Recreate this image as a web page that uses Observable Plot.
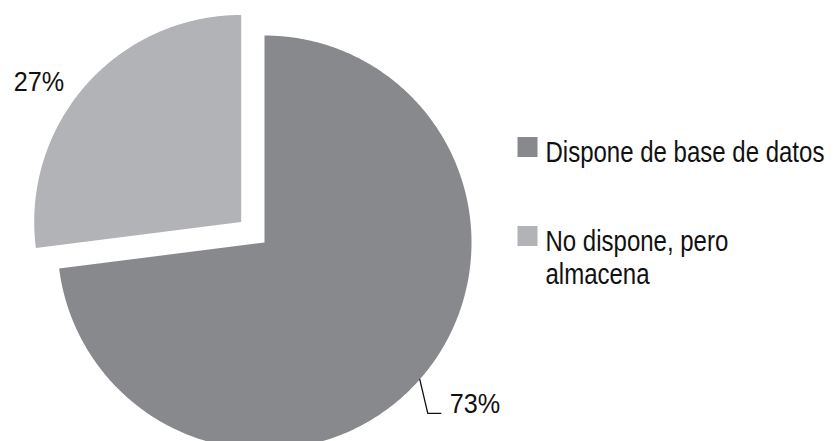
<!DOCTYPE html>
<html>
<head>
<meta charset="utf-8">
<script src="https://cdn.jsdelivr.net/npm/d3@7"></script>
<script src="https://cdn.jsdelivr.net/npm/@observablehq/plot@0.6"></script>
<style>
  html, body { margin: 0; padding: 0; background: #fff; }
  #chart svg { display: block; }
</style>
</head>
<body>
<div id="chart"></div>
<script>
// ---- data ----
const categories = ["Dispone de base de datos", "No dispone, pero\nalmacena"];
const values = [73, 27];
const valueLabels = ["73%", "27%"];
const colors = ["#88898d", "#b1b3b6"];
const exploded = [false, true];

// ---- layout ----
const W = 837, H = 441;
const R = 207, CX = 264, CY = 242;     // pie radius and centre in px
const EXPLODE = 0.15;                    // explode distance in radius units
const FONT = "'Liberation Sans', Arial, sans-serif";

const pie = d3.pie().sort(null).value(d => d.value).startAngle(0).endAngle(2 * Math.PI);
const table = categories.map((c, i) => ({category: c, value: values[i], label: valueLabels[i], color: colors[i], exploded: exploded[i]}));
const arcs = pie(table);

// build slice polygons (unit-radius coords, y up)
const polys = [];
arcs.forEach((a, k) => {
  const mid = (a.startAngle + a.endAngle) / 2;
  const ox = a.data.exploded ? EXPLODE * Math.sin(mid) : 0;
  const oy = a.data.exploded ? EXPLODE * Math.cos(mid) : 0;
  a.ox = ox; a.oy = oy; a.mid = mid;
  const n = Math.max(8, Math.ceil((a.endAngle - a.startAngle) / (Math.PI / 360)));
  polys.push({k, x: ox, y: oy, color: a.data.color});
  for (let j = 0; j <= n; j++) {
    const t = a.startAngle + (a.endAngle - a.startAngle) * j / n;
    polys.push({k, x: ox + Math.sin(t), y: oy + Math.cos(t), color: a.data.color});
  }
  polys.push({k, x: ox, y: oy, color: a.data.color});
});

// leader line for the large slice (anchored on its mid angle)
const big = arcs[0];
const p0 = {x: Math.sin(big.mid), y: Math.cos(big.mid)};
const p1 = {x: p0.x + 8 / R, y: p0.y - 34 / R};
const p2 = {x: p1.x + 13 / R, y: p1.y};
const leader = [p0, p1, p2];

const small = arcs[1];
const smallLabel = [{
  x: small.ox + 1.2 * Math.sin(small.mid),
  y: small.oy + 1.2 * Math.cos(small.mid),
  text: small.data.label
}];
const bigLabel = [{x: p2.x + 9 / R, y: p2.y, text: big.data.label}];

const legendMarks = [];
const legendTop = [136, 225];
table.forEach((d, i) => {
  legendMarks.push(Plot.dot([d], {frameAnchor: "top-left", dx: 527, dy: legendTop[i] + 10.5, symbol: "square", r: 20 / Math.sqrt(Math.PI), fill: d.color, stroke: "none"}));
  legendMarks.push(Plot.text([d], {frameAnchor: "top-left", dx: 545, dy: legendTop[i] + 1, text: "category", textAnchor: "start", lineAnchor: "top", fontSize: 30, lineHeight: 1.13, fill: "#111", className: "legend-text"}));
});

const chart = Plot.plot({
  width: W, height: H, margin: 0,
  style: {fontFamily: FONT, background: "#fff"},
  x: {domain: [-CX / R, (W - CX) / R], axis: null},
  y: {domain: [-(H - CY) / R, CY / R], axis: null},
  marks: [
    Plot.line(polys, {x: "x", y: "y", z: "k", fill: "color", stroke: "none", curve: "linear"}),
    Plot.line(leader, {x: "x", y: "y", stroke: "#111", strokeWidth: 1.3}),
    Plot.text(bigLabel, {x: "x", y: "y", text: "text", textAnchor: "start", lineAnchor: "bottom", fontSize: 28, fill: "#111", className: "pct-text"}),
    Plot.text(smallLabel, {x: "x", y: "y", text: "text", textAnchor: "middle", lineAnchor: "middle", dx: -16, dy: 24, fontSize: 28, fill: "#111", className: "pct-text"}),
    ...legendMarks
  ]
});
document.getElementById("chart").appendChild(chart);

// condense the text horizontally (narrow typeface look)
function condense(selector, factor) {
  chart.querySelectorAll(selector + " text").forEach(t => {
    const spans = t.querySelectorAll("tspan");
    const els = spans.length ? Array.from(spans) : [t];
    els.forEach(el => {
      const len = el.getComputedTextLength();
      if (len > 0) {
        el.setAttribute("textLength", (len * factor).toFixed(2));
        el.setAttribute("lengthAdjust", "spacingAndGlyphs");
      }
    });
  });
}
condense(".legend-text", 0.8);
condense(".pct-text", 0.9);
</script>
</body>
</html>
